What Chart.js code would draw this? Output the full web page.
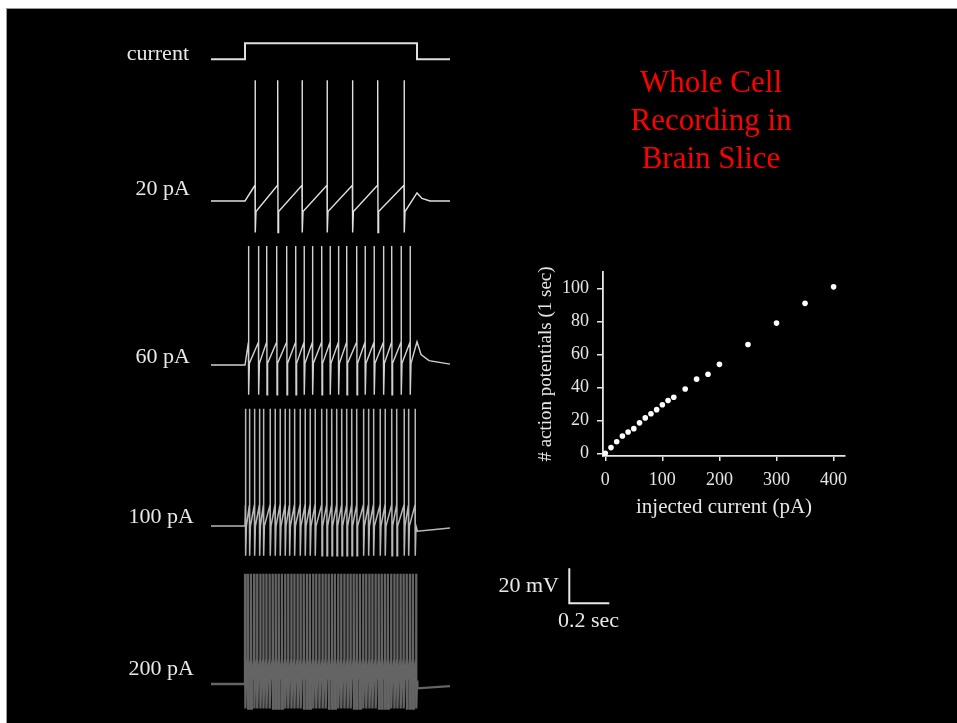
<!DOCTYPE html>
<html>
<head>
<meta charset="utf-8">
<script src="https://cdn.jsdelivr.net/npm/chart.js@4.4.1/dist/chart.umd.min.js"></script>
<style>
  html, body { margin: 0; padding: 0; background: #fff; }
  #page { position: relative; width: 957px; height: 723px; overflow: hidden; }
  #slide { position: absolute; left: 6px; top: 8px; right: 0; bottom: 0; background: #000;
           border-top: 1px solid #9a9a9a; border-left: 1px solid #9a9a9a; }
  canvas { position: absolute; }
  .lbl { position: absolute; font-family: "Liberation Serif", "Times New Roman", serif;
         font-size: 22px; line-height: 22px; color: #e8e8e8; white-space: nowrap; }
  #title { position: absolute; left: 611px; width: 200px; top: 63px; text-align: center;
           font-family: "Liberation Serif", "Times New Roman", serif; font-size: 31px;
           line-height: 38px; color: #ff0000; }
</style>
</head>
<body>
<div id="page">
  <div id="slide"></div>
  <canvas id="traces" width="957" height="723" style="left:0;top:0"></canvas>
  <canvas id="fiCurve" width="360" height="300" style="left:500px;top:240px"></canvas>

  <div class="lbl" style="right:768px;top:42px">current</div>
  <div class="lbl" style="right:767px;top:177px">20 pA</div>
  <div class="lbl" style="right:767px;top:345px">60 pA</div>
  <div class="lbl" style="right:763px;top:505px">100 pA</div>
  <div class="lbl" style="right:763px;top:657px">200 pA</div>
  <div class="lbl" style="right:398px;top:574px">20 mV</div>
  <div class="lbl" style="left:558px;top:609px">0.2 sec</div>

  <div id="title">Whole Cell<br>Recording in<br>Brain Slice</div>
</div>

<script>
// --- F-I curve ---
const injectedCurrent = [0, 10, 20, 30, 40, 50, 60, 70, 80, 90, 100, 110, 120, 140, 160, 180, 200, 250, 300, 350, 400];
const apCount = [0, 3.5, 7, 10.5, 13, 15, 18.5, 21.5, 24, 26.5, 29.5, 32, 34, 39, 45, 48, 54, 66, 79, 91, 101];
const xTicks = [0, 100, 200, 300, 400];
const yTicks = [0, 20, 40, 60, 80, 100];

// --- recordings: spike times in ms after current onset ---
const spikes20 = [50, 163, 285, 410, 537, 663, 795];
const spikes60 = [17, 67, 108, 158, 208, 253, 295, 337, 383, 425, 467, 508, 558, 600, 645, 692, 733, 780, 825];
const spikes100 = [2, 22, 47, 72, 92, 125, 150, 175, 200, 222, 247, 275, 300, 325, 350, 383, 408, 433, 458,
                   483, 508, 533, 558, 592, 617, 642, 675, 700, 733, 758, 795, 817, 850];
const spikes200 = [0, 14, 29, 45, 60, 76, 91, 106, 122, 138, 153, 168, 184, 200, 215, 231, 246, 262, 277, 293,
                   309, 324, 340, 355, 371, 387, 402, 418, 434, 449, 465, 480, 496, 512, 527, 543, 558, 574,
                   590, 605, 621, 636, 652, 668, 683, 699, 714, 730, 746, 761, 777, 792, 808, 824, 839, 855];

// mV relative to rest, one entry per trace (20, 60, 100, 200 pA)
const spikePeak = [69, 68, 67, 63];
const spikeTrough = [-18, -17, -17, -14];
const ahpLevel = [-6, 1, 0, 2];
const thresholdLevel = [9, 13, 12, 14];

// what the membrane does after the step ends [ms, mV]
const after20 = [[860, 4.6], [885, 1.5], [925, 0], [1025, 0]];
const after60 = [[860, 13.3], [880, 6], [920, 2.5], [1025, 0.5]];
const after100 = [[862, -3], [950, -2], [1025, -1.2]];
const after200 = [[862, -2.5], [1025, -1.2]];

const stepOn = 0, stepOff = 860, sweepStart = -170, sweepEnd = 1025;
const scaleBarMs = 200, scaleBarMv = 20;

// --- layout (pixels) ---
const PX_PER_MS = 0.2, PX_PER_MV = 1.75, ONSET_PX = 245;
const W = 957, H = 723;
const toUnits = py => (H - py) / PX_PER_MV;
const baselinePx = [201, 365, 526, 684];
const currentBasePx = 59.3, currentTopPx = 43.3;
const barLeftPx = 569.3, barBottomPx = 603.3;

const spikeTimes = [spikes20, spikes60, spikes100, spikes200];
const afterStep = [after20, after60, after100, after200];
const traceColor = ['rgba(225,225,225,1)', 'rgba(220,220,220,0.95)', 'rgba(215,215,215,0.85)', 'rgba(200,200,200,0.5)'];
const traceWidth = [1.4, 1.4, 1.5, 2.3];

function buildTrace(i) {
  const base = toUnits(baselinePx[i]);
  const pts = [{x: sweepStart, y: 0}, {x: stepOn, y: 0}];
  spikeTimes[i].forEach(s => {
    pts.push({x: s, y: thresholdLevel[i]},
             {x: s + 0.5, y: spikePeak[i]},
             {x: s + 2, y: spikeTrough[i]},
             {x: s + 5, y: ahpLevel[i]});
  });
  afterStep[i].forEach(([t, v]) => pts.push({x: t, y: v}));
  return pts.map(p => ({x: p.x, y: p.y + base}));
}

const cb = toUnits(currentBasePx), ct = toUnits(currentTopPx);
const currentTrace = [
  {x: sweepStart, y: cb}, {x: stepOn, y: cb}, {x: stepOn, y: ct},
  {x: stepOff, y: ct}, {x: stepOff, y: cb}, {x: sweepEnd, y: cb}
];

const barX = (barLeftPx - ONSET_PX) / PX_PER_MS, barY = toUnits(barBottomPx);
const scaleBar = [{x: barX, y: barY + scaleBarMv}, {x: barX, y: barY}, {x: barX + scaleBarMs, y: barY}];

const traceSets = [0, 1, 2, 3].map(i => ({
  data: buildTrace(i),
  borderColor: traceColor[i],
  borderWidth: traceWidth[i],
  pointRadius: 0,
  tension: 0
}));

new Chart(document.getElementById('traces'), {
  type: 'line',
  data: {
    datasets: [
      {data: currentTrace, borderColor: '#e0e0e0', borderWidth: 2, pointRadius: 0, tension: 0},
      ...traceSets,
      {data: scaleBar, borderColor: '#e8e8e8', borderWidth: 2, pointRadius: 0, tension: 0}
    ]
  },
  options: {
    responsive: false,
    animation: false,
    events: [],
    layout: {padding: 0},
    plugins: {legend: {display: false}, tooltip: {enabled: false}},
    scales: {
      x: {type: 'linear', display: false, min: -ONSET_PX / PX_PER_MS, max: (W - ONSET_PX) / PX_PER_MS},
      y: {type: 'linear', display: false, min: 0, max: H / PX_PER_MV}
    }
  }
});

// --- scatter plot ---
const serif = '"Liberation Serif", "Times New Roman", serif';
const axisColor = '#e6e6e6';

new Chart(document.getElementById('fiCurve'), {
  type: 'scatter',
  data: {
    datasets: [{
      data: injectedCurrent.map((c, i) => ({x: c, y: apCount[i]})),
      backgroundColor: '#ffffff',
      borderWidth: 0,
      pointRadius: 2.8
    }]
  },
  options: {
    responsive: false,
    animation: false,
    events: [],
    layout: {padding: {top: 32, right: 15, left: 0, bottom: 0}},
    plugins: {legend: {display: false}, tooltip: {enabled: false}},
    scales: {
      x: {
        type: 'linear', min: -4, max: 420,
        afterBuildTicks: s => { s.ticks = xTicks.map(v => ({value: v})); },
        afterFit: s => { s.height = 84; },
        grid: {drawOnChartArea: false, drawTicks: true, tickLength: 5, color: axisColor, lineWidth: 1.5},
        border: {display: true, color: axisColor, width: 1.8},
        ticks: {color: axisColor, font: {family: serif, size: 18}, padding: 8, maxRotation: 0},
        title: {display: true, text: 'injected current (pA)', color: axisColor,
                font: {family: serif, size: 21}, padding: {bottom: 20}}
      },
      y: {
        type: 'linear', min: -1.6, max: 110,
        afterBuildTicks: s => { s.ticks = yTicks.map(v => ({value: v})); },
        afterFit: s => { s.width = 103; },
        grid: {drawOnChartArea: false, drawTicks: true, tickLength: 6, color: axisColor, lineWidth: 1.5},
        border: {display: true, color: axisColor, width: 1.8},
        ticks: {color: axisColor, font: {family: serif, size: 18}, padding: 8},
        title: {display: true, text: '# action potentials (1 sec)', color: axisColor,
                font: {family: serif, size: 19}, padding: {top: 35}}
      }
    }
  }
});
</script>
</body>
</html>
